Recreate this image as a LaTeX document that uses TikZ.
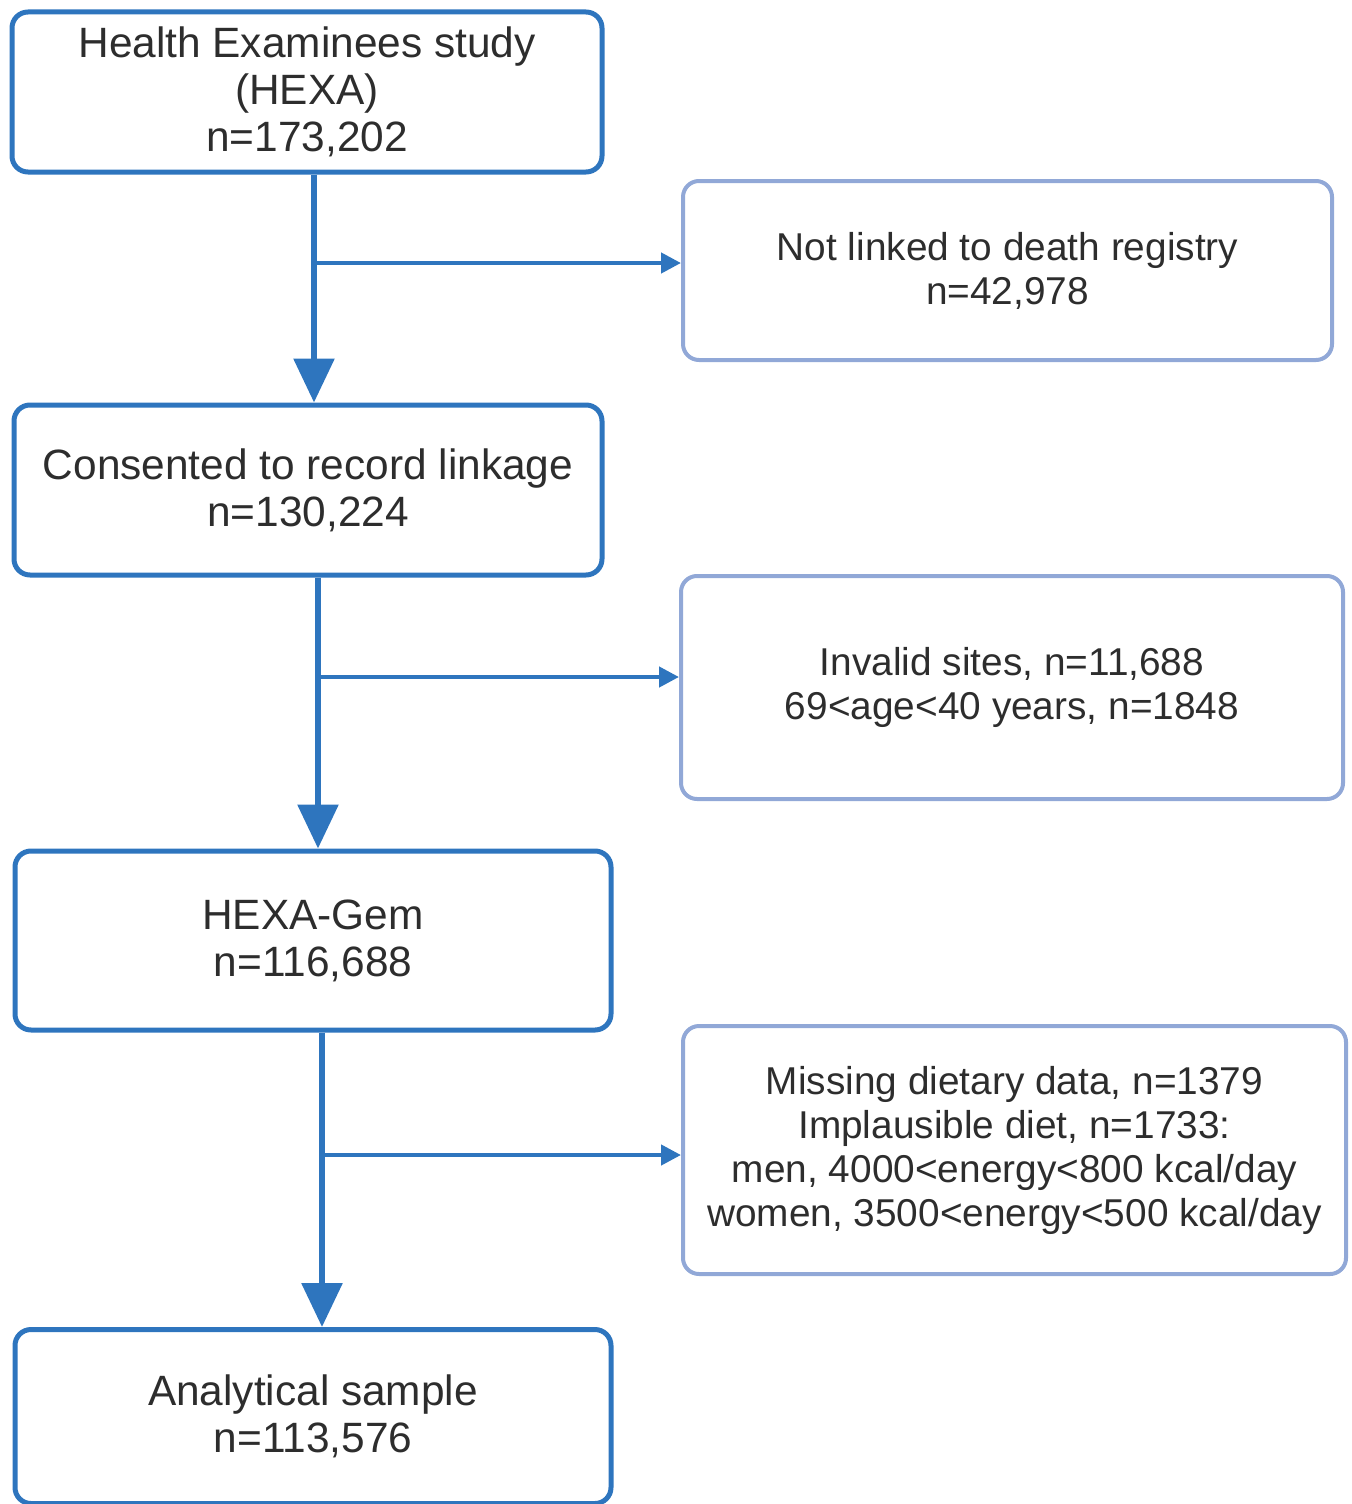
\documentclass[tikz,border=0pt]{standalone}
\usepackage{fontspec}
\setmainfont{Liberation Sans}
\usetikzlibrary{arrows.meta}
\definecolor{mainblue}{RGB}{46,117,190}
\definecolor{sideblue}{RGB}{145,168,215}
\definecolor{txt}{RGB}{45,45,45}
\begin{document}
\begin{tikzpicture}[x=0.5pt,y=-0.5pt,
  mainbox/.style={draw=mainblue,line width=2.5pt,rounded corners=8pt,align=center,
    text=txt,font=\fontsize{21.2pt}{23.5pt}\selectfont,inner sep=0pt},
  sidebox/.style={draw=sideblue,line width=2pt,rounded corners=8pt,align=center,
    text=txt,font=\fontsize{19.4pt}{22pt}\selectfont,inner sep=0pt},
  down/.style={draw=mainblue,line width=3pt,-{Triangle[length=22pt,width=20pt]}},
  side/.style={draw=mainblue,line width=2.2pt,-{Triangle[length=10pt,width=10pt]}}]
\useasboundingbox (0,0) rectangle (1352,1504);
\begin{scope}
\clip (0,0) rectangle (1352,1504);
\node[mainbox,minimum width=295pt,minimum height=80pt] (b1) at (307,92)
  {Health Examinees study\\(HEXA)\\n=173,202};
\node[sidebox,minimum width=324.5pt,minimum height=89.5pt] (r1) at (1007.5,270.5)
  {Not linked to death registry\\n=42,978};
\node[mainbox,minimum width=294pt,minimum height=85pt] (b2) at (308,490)
  {Consented to record linkage\\n=130,224};
\node[sidebox,minimum width=331pt,minimum height=111.5pt] (r2) at (1012,687.5)
  {Invalid sites, n=11,688\\69<age<40 years, n=1848};
\node[mainbox,minimum width=298pt,minimum height=89.5pt] (b3) at (313,940.5)
  {HEXA-Gem\\n=116,688};
\node[sidebox,minimum width=331.5pt,minimum height=124pt] (r3) at (1014.5,1150)
  {Missing dietary data, n=1379\\Implausible diet, n=1733:\\men, 4000<energy<800 kcal/day\\women, 3500<energy<500 kcal/day};
\node[mainbox,minimum width=298pt,minimum height=87pt] (b4) at (313,1416.5)
  {Analytical sample\\n=113,576};
\coordinate (j1) at (314,263);
\coordinate (j2) at (318,677);
\coordinate (j3) at (322,1155);
\draw[down] (b1.south -| j1) -- (b2.north -| j1);
\draw[side] (j1) -- (r1.west |- j1);
\draw[down] (b2.south -| j2) -- (b3.north -| j2);
\draw[side] (j2) -- (r2.west |- j2);
\draw[down] (b3.south -| j3) -- (b4.north -| j3);
\draw[side] (j3) -- (r3.west |- j3);
\end{scope}
\end{tikzpicture}
\end{document}
